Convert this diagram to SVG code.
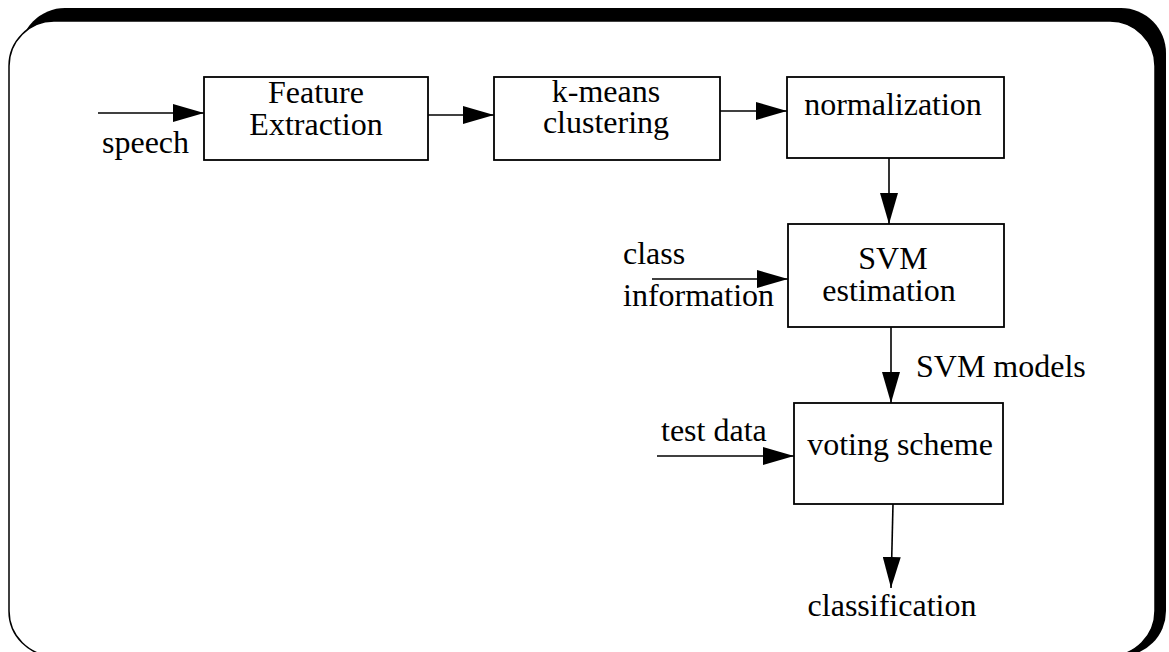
<svg xmlns="http://www.w3.org/2000/svg" width="1169" height="652" viewBox="0 0 1169 652">
<style>
.box{fill:#fff;stroke:#000;stroke-width:1.8}
.t{font-family:"Liberation Serif","Times New Roman",serif;font-size:32px;fill:#000}
.m{text-anchor:middle}
.c{stroke:#000;stroke-width:1.6;fill:none;marker-end:url(#ah)}
</style>
<defs>
<marker id="ah" markerUnits="userSpaceOnUse" markerWidth="32" markerHeight="18" refX="31" refY="9" orient="auto">
<path d="M0,0 L31,9 L0,18 z" fill="#000"/>
</marker>
</defs>
<rect width="1169" height="652" fill="#fff"/>
<g id="frame">
<rect x="20" y="8" width="1146" height="648" rx="45" ry="45" fill="#000"/>
<rect x="9" y="21" width="1146" height="635" rx="45" ry="45" fill="#fff" stroke="#000" stroke-width="1.5"/>
</g>
<g id="connectors">
<line class="c" x1="98" y1="113" x2="204" y2="113"/>
<line class="c" x1="428" y1="115" x2="494" y2="115"/>
<line class="c" x1="717" y1="111" x2="787" y2="111"/>
<line class="c" x1="889" y1="158" x2="889" y2="224"/>
<line class="c" x1="652" y1="279" x2="788" y2="279"/>
<line class="c" x1="891" y1="327" x2="891" y2="403"/>
<line class="c" x1="657" y1="456" x2="794" y2="456"/>
<line class="c" x1="893" y1="504" x2="891" y2="588"/>
</g>
<g id="labels">
<text class="t" x="102" y="153">speech</text>
<text class="t" x="623" y="264">class</text>
<text class="t" x="623" y="306">information</text>
<text class="t" x="916" y="377">SVM models</text>
<text class="t" x="661" y="441">test data</text>
<text class="t m" x="892" y="616">classification</text>
</g>
<g id="feature-extraction">
<rect class="box" x="204" y="77" width="224" height="83"/>
<text class="t m" x="316" y="103">Feature</text>
<text class="t m" x="316" y="135">Extraction</text>
</g>
<g id="kmeans">
<rect class="box" x="494" y="77" width="226" height="83"/>
<text class="t m" x="606" y="102">k-means</text>
<text class="t m" x="606" y="133">clustering</text>
</g>
<g id="normalization">
<rect class="box" x="787" y="77" width="217" height="81"/>
<text class="t m" x="893" y="115">normalization</text>
</g>
<g id="svm-estimation">
<rect class="box" x="788" y="224" width="216" height="103"/>
<text class="t m" x="893" y="269">SVM</text>
<text class="t m" x="889" y="301">estimation</text>
</g>
<g id="voting-scheme">
<rect class="box" x="794" y="403" width="209" height="101"/>
<text class="t m" x="900" y="455">voting scheme</text>
</g>
</svg>
